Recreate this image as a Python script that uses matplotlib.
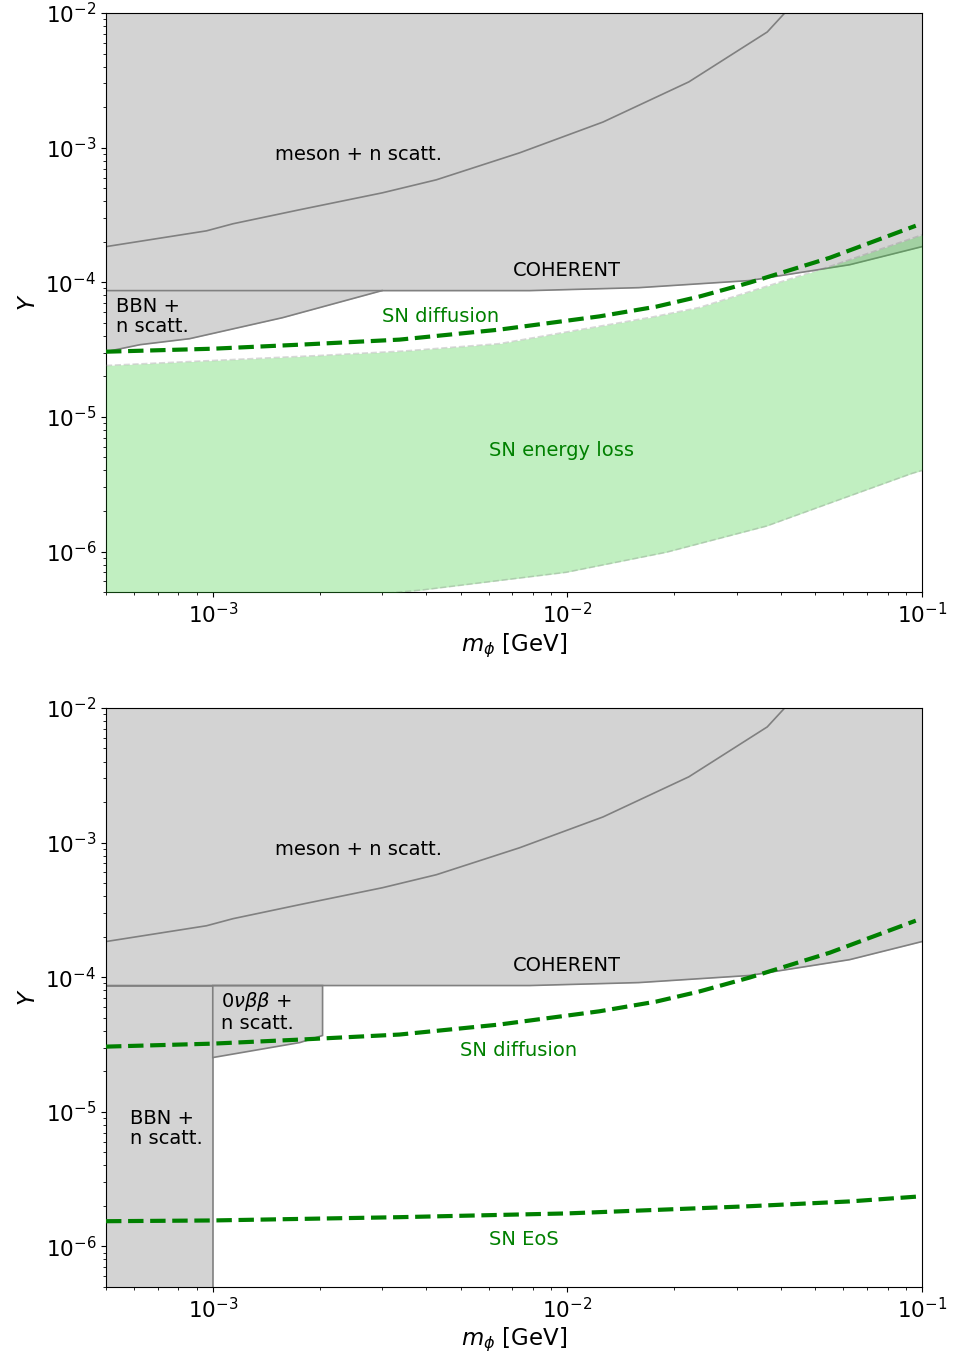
import numpy as np
import matplotlib
matplotlib.use("Agg")
import matplotlib.pyplot as plt

# ---- constraint curves (m_phi in GeV, coupling Y) ----
meson_m = [5e-4, 9.6e-4, 1.14e-3, 1.76e-3, 3.01e-3, 4.27e-3, 7.33e-3, 1.26e-2, 2.2e-2, 3.66e-2, 4.1e-2, 5.0e-2]
meson_Y = [1.84e-4, 2.41e-4, 2.72e-4, 3.46e-4, 4.62e-4, 5.77e-4, 9.15e-4, 1.55e-3, 3.08e-3, 7.23e-3, 1.0e-2, 1.6e-2]

coherent_m = [5e-4, 7.83e-3, 1.59e-2, 3.26e-2, 6.25e-2, 1e-1]
coherent_Y = [8.67e-5, 8.67e-5, 9.12e-5, 1.03e-4, 1.35e-4, 1.84e-4]

bbn_m = [5e-4, 6.24e-4, 8.6e-4, 1.574e-3, 3.0e-3]
bbn_Y = [3.05e-5, 3.44e-5, 3.81e-5, 5.46e-5, 8.67e-5]

dbd_m = [1e-3, 1.76e-3, 2.04e-3]
dbd_Y = [2.53e-5, 3.27e-5, 3.69e-5]

diff_m = [5e-4, 1e-3, 1.76e-3, 3.36e-3, 6.43e-3, 1.23e-2, 1.78e-2, 2.35e-2, 3.26e-2, 5.49e-2, 9.6e-2]
diff_Y = [3.05e-5, 3.21e-5, 3.44e-5, 3.75e-5, 4.45e-5, 5.58e-5, 6.59e-5, 7.82e-5, 9.93e-5, 1.52e-4, 2.63e-4]

eloss_up_m = [5e-4, 1.76e-3, 3.36e-3, 6.43e-3, 1.7e-2, 2.35e-2, 3.26e-2, 5.49e-2, 1e-1]
eloss_up_Y = [2.41e-5, 2.81e-5, 3.07e-5, 3.5e-5, 5.46e-5, 6.49e-5, 8.51e-5, 1.31e-4, 2.25e-4]
eloss_lo_m = [5e-4, 1e-3, 3.83e-3, 9.9e-3, 1.9e-2, 3.63e-2, 5.57e-2, 9.36e-2, 1e-1]
eloss_lo_Y = [3.14e-7, 3.72e-7, 5.15e-7, 7.0e-7, 9.87e-7, 1.54e-6, 2.32e-6, 3.8e-6, 4.0e-6]

eos_m = [5e-4, 1e-3, 3.36e-3, 1e-2, 3.26e-2, 6.25e-2, 1e-1]
eos_Y = [1.54e-6, 1.56e-6, 1.65e-6, 1.76e-6, 1.99e-6, 2.16e-6, 2.36e-6]

XMIN, XMAX = 5e-4, 1e-1
YMIN, YMAX = 5e-7, 1e-2
FS = 14
TICK_FS = 15.5
LABEL_FS = 16.5
GRAY_FACE = "lightgray"
GRAY_EDGE = "gray"


def loginterp(xq, xs, ys):
    return 10 ** np.interp(np.log10(xq), np.log10(xs), np.log10(ys))


def common(ax):
    # meson + n scattering and COHERENT exclusions
    x = np.logspace(np.log10(XMIN), np.log10(XMAX), 400)
    yc = loginterp(x, coherent_m, coherent_Y)
    ax.fill_between(x, yc, 1.0, color=GRAY_FACE, lw=0, zorder=1)
    ax.plot(coherent_m, coherent_Y, color=GRAY_EDGE, lw=1.2, zorder=2)
    ax.plot(meson_m, meson_Y, color=GRAY_EDGE, lw=1.2, zorder=2)
    # SN diffusion
    ax.plot(diff_m, diff_Y, color="green", lw=3, ls="--", zorder=5)
    ax.text(2.58e-3, 8.85e-4, "meson + n scatt.", fontsize=FS, ha="center", va="center")
    ax.text(9.94e-3, 1.22e-4, "COHERENT", fontsize=FS, ha="center", va="center")
    ax.set_xscale("log")
    ax.set_yscale("log")
    ax.set_xlim(XMIN, XMAX)
    ax.set_ylim(YMIN, YMAX)
    ax.set_xlabel(r"$m_\phi$ [GeV]", fontsize=LABEL_FS, labelpad=3)
    ax.set_ylabel(r"$Y$", fontsize=LABEL_FS)
    ax.tick_params(axis="both", which="major", labelsize=TICK_FS)


fig = plt.figure(figsize=(9.55, 13.57), dpi=100)
ax1 = fig.add_axes([0.111, 0.5637, 0.8545, 0.4267])
ax2 = fig.add_axes([0.111, 0.0516, 0.8545, 0.4267])

# ---- top panel ----
common(ax1)
xb = np.array(bbn_m)
ax1.fill_between(xb, bbn_Y, loginterp(xb, coherent_m, coherent_Y), color=GRAY_FACE, lw=0, zorder=1)
ax1.plot(bbn_m, bbn_Y, color=GRAY_EDGE, lw=1.2, zorder=2)
xe = np.logspace(np.log10(XMIN), np.log10(XMAX), 400)
up = loginterp(xe, eloss_up_m, eloss_up_Y)
lo = loginterp(xe, eloss_lo_m, eloss_lo_Y)
ax1.fill_between(xe, lo, up, color="limegreen", alpha=0.3, lw=0, zorder=3)
ax1.plot(xe, up, color="gray", alpha=0.3, lw=1.2, ls="--", zorder=3)
ax1.plot(xe, lo, color="gray", alpha=0.3, lw=1.2, ls="--", zorder=3)
ax1.text(5.33e-4, 5.56e-5, "BBN +\nn scatt.", fontsize=FS, ha="left", va="center", linespacing=1.1)
ax1.text(4.38e-3, 5.56e-5, "SN diffusion", fontsize=FS, color="green", ha="center", va="center")
ax1.text(9.6e-3, 5.64e-6, "SN energy loss", fontsize=FS, color="green", ha="center", va="center")

# ---- bottom panel ----
common(ax2)
ycoh0 = coherent_Y[0]
ax2.fill([XMIN, 1e-3, 1e-3, XMIN], [1e-8, 1e-8, ycoh0, ycoh0],
         facecolor=GRAY_FACE, edgecolor=GRAY_EDGE, lw=1.2, zorder=1)
ax2.fill(dbd_m + [dbd_m[-1], dbd_m[0]], dbd_Y + [ycoh0, ycoh0],
         facecolor=GRAY_FACE, edgecolor=GRAY_EDGE, lw=1.2, zorder=1)
ax2.plot(eos_m, eos_Y, color="green", lw=3, ls="--", zorder=5)
ax2.text(1.053e-3, 5.56e-5, r"$0\nu\beta\beta$ +" + "\nn scatt.", fontsize=FS, ha="left", va="center", linespacing=1.1)
ax2.text(5.84e-4, 7.53e-6, "BBN +\nn scatt.", fontsize=FS, ha="left", va="center", linespacing=1.1)
ax2.text(7.28e-3, 2.85e-5, "SN diffusion", fontsize=FS, color="green", ha="center", va="center")
ax2.text(7.52e-3, 1.13e-6, "SN EoS", fontsize=FS, color="green", ha="center", va="center")

fig.savefig("out.png", dpi=100)
